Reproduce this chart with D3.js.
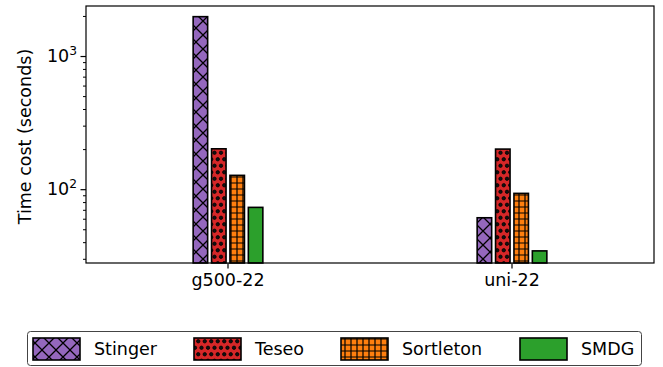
<!DOCTYPE html>
<html><head><meta charset="utf-8">
<script src="https://cdn.jsdelivr.net/npm/d3@7"></script>
<style>body{margin:0;background:#fff}svg{display:block}text{font-family:"DejaVu Sans",sans-serif;fill:#000}</style>
</head><body><svg id="c" width="663" height="367"></svg>
<script>
const categories = ["g500-22", "uni-22"];
const seriesNames = ["Stinger", "Teseo", "Sortleton", "SMDG"];
const stinger = [1975, 61];
const teseo = [201, 200];
const sortleton = [127, 93];
const smdg = [73, 34.4];
const seriesValues = [stinger, teseo, sortleton, smdg];
const colors = ["#9467bd", "#d62728", "#ff7f0e", "#2ca02c"];
const hatches = ["x", "o", "+", ""];
const yDomain = [27.9, 2375];
const yMajorTicks = [100, 1000];

const svg = d3.select("#c");
const M = {l: 86, r: 654, t: 6, b: 263};
const fs = 17.5;

// patterns
const defs = svg.append("defs");
function mkPattern(id, h, color) {
  if (h === "x") {
    const P = 14;
    const p = defs.append("pattern").attr("id", id).attr("patternUnits", "userSpaceOnUse")
      .attr("width", P).attr("height", P);
    p.append("rect").attr("width", P).attr("height", P).attr("fill", color);
    p.append("path").attr("d", `M-3,-3L${P+3},${P+3}M-3,${P+3}L${P+3},-3`)
      .attr("stroke", "#000").attr("stroke-width", 1.3).attr("fill", "none");
  } else if (h === "o") {
    const p = defs.append("pattern").attr("id", id).attr("patternUnits", "userSpaceOnUse")
      .attr("width", 13).attr("height", 13);
    p.append("rect").attr("width", 13).attr("height", 13).attr("fill", color);
    [[3.25,3.25],[9.75,3.25],[0,9.75],[6.5,9.75],[13,9.75]].forEach(([cx,cy]) =>
      p.append("circle").attr("cx", cx).attr("cy", cy).attr("r", 1.7)
        .attr("fill", "#111").attr("stroke", "#000").attr("stroke-width", 0.8));
  } else if (h === "+") {
    const p = defs.append("pattern").attr("id", id).attr("patternUnits", "userSpaceOnUse")
      .attr("width", 6).attr("height", 6);
    p.append("rect").attr("width", 6).attr("height", 6).attr("fill", color);
    p.append("path").attr("d", "M3,0V6M0,3H6").attr("stroke", "#000").attr("stroke-width", 1.2);
  }
}
seriesNames.forEach((s, i) => { if (hatches[i]) mkPattern("p" + i, hatches[i], colors[i]); });
const fillOf = i => hatches[i] ? `url(#p${i})` : colors[i];

const x = d3.scaleBand().domain(categories).range([M.l, M.r]).padding(0);
const y = d3.scaleLog().domain(yDomain).range([M.b, M.t]);
const step = 18.4, bw = 14.5;

const g = svg.append("g");
seriesValues.forEach((vals, i) => {
  g.selectAll(null).data(vals).enter().append("rect")
    .attr("x", (d, j) => x(categories[j]) + x.bandwidth() / 2 + (i - 1.5) * step - bw / 2)
    .attr("width", bw)
    .attr("y", d => y(d))
    .attr("height", d => M.b - y(d))
    .attr("fill", fillOf(i))
    .attr("stroke", "#000").attr("stroke-width", 1.6);
});

// axes frame
svg.append("rect").attr("x", M.l).attr("y", M.t).attr("width", M.r - M.l).attr("height", M.b - M.t)
  .attr("fill", "none").attr("stroke", "#000").attr("stroke-width", 1.2);

// y axis
const minor = [];
for (let e = 1; e <= 3; e++) for (let k = 2; k <= 9; k++) {
  const v = k * Math.pow(10, e);
  if (v >= yDomain[0] && v <= yDomain[1]) minor.push(v);
}
const yAxMinor = d3.axisLeft(y).tickValues(minor).tickSize(3).tickFormat("");
const yAx = d3.axisLeft(y).tickValues(yMajorTicks).tickSize(5.5).tickFormat("");
const ga1 = svg.append("g").attr("transform", `translate(${M.l},0)`).call(yAxMinor);
const ga2 = svg.append("g").attr("transform", `translate(${M.l},0)`).call(yAx);
[ga1, ga2].forEach(a => { a.select(".domain").remove(); a.selectAll("line").attr("stroke", "#000").attr("stroke-width", 1); });
ga2.selectAll("line").attr("stroke-width", 1.2);
yMajorTicks.forEach(v => {
  const t = svg.append("text").attr("x", M.l - 9).attr("y", y(v) + 6).attr("text-anchor", "end")
    .style("font-size", fs + "px");
  const exp = Math.round(Math.log10(v));
  t.append("tspan").text("10");
  t.append("tspan").attr("dy", -7).style("font-size", (fs * 0.7) + "px").text(exp);
});
svg.append("text").attr("transform", `translate(31,${(M.t + M.b) / 2 + 2}) rotate(-90)`)
  .attr("text-anchor", "middle").style("font-size", fs + "px").text("Time cost (seconds)");

// x axis
const xAx = d3.axisBottom(x).tickSize(5.5).tickPadding(5);
const gx = svg.append("g").attr("transform", `translate(0,${M.b})`).call(xAx);
gx.select(".domain").remove();
gx.selectAll("line").attr("stroke", "#000").attr("stroke-width", 1.2);
gx.selectAll("text").style("font-size", fs + "px").attr("fill", "#000").attr("font-family", "DejaVu Sans");

// legend
const lg = svg.append("g");
lg.append("rect").attr("x", 27.5).attr("y", 331.5).attr("width", 614).attr("height", 34)
  .attr("rx", 3).attr("fill", "#fff").attr("stroke", "#444").attr("stroke-width", 1);
const lx = [33, 194, 341, 520];
seriesNames.forEach((s, i) => {
  lg.append("rect").attr("x", lx[i]).attr("y", 338).attr("width", 47).attr("height", 22)
    .attr("fill", fillOf(i)).attr("stroke", "#000").attr("stroke-width", 1.6);
  lg.append("text").attr("x", lx[i] + 61).attr("y", 355).style("font-size", fs + "px").text(s);
});
</script></body></html>
